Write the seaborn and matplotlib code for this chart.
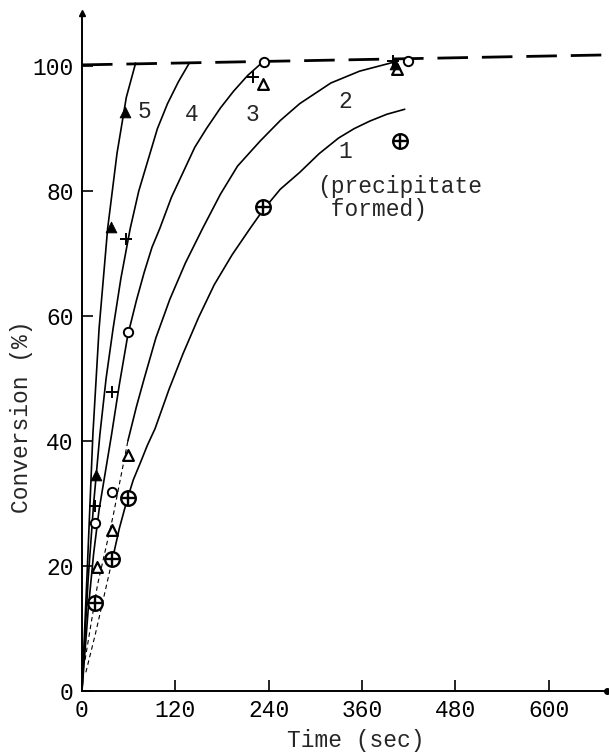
import numpy as np
import pandas as pd
import matplotlib
matplotlib.use('Agg')
import matplotlib.pyplot as plt
import seaborn as sns

# Measured points (time in sec, conversion in %)
t_oplus = [17, 39, 59, 233, 409]
c_oplus = [14.1, 21.2, 30.9, 77.4, 88.0]
t_otri = [19, 38, 59, 233, 405]
c_otri = [19.9, 25.8, 37.8, 97.1, 99.6]
t_ocirc = [17, 39, 59, 234, 419]
c_ocirc = [26.9, 31.9, 57.4, 100.6, 100.8]
t_plus = [17, 39, 57, 220, 400]
c_plus = [29.6, 47.9, 72.4, 98.2, 100.8]
t_ftri = [18, 37, 55, 403]
c_ftri = [34.6, 74.2, 92.6, 100.3]

# Drawn curves
t_curve5 = [0, 7, 14, 22, 33, 45, 57, 69]
c_curve5 = [0, 20, 41, 58, 74, 86, 95, 100.5]
t_curve4 = [0, 8, 15, 23, 31, 40, 50, 62, 73, 85, 97, 110, 124, 138]
c_curve4 = [0, 18, 30, 41, 50, 58, 66, 74, 80, 85, 90, 94, 97.5, 100.5]
t_curve3 = [0, 8, 15, 22, 30, 38, 48, 59, 70, 80, 90, 100, 115, 130, 145, 160,
            178, 195, 213, 231]
c_curve3 = [0, 13, 22, 29, 35, 41, 49, 57, 62.5, 67, 71, 74, 79, 83, 87, 90,
            93.3, 96, 98.5, 100.5]
t_curve2 = [59, 70, 80, 95, 113, 133, 155, 178, 200, 229, 255, 280, 320, 357, 400]
c_curve2 = [40, 45.5, 50, 56.5, 62.7, 68.5, 74, 79.5, 84, 88, 91.3, 94, 97.3,
            99.2, 100.6]
t_curve1 = [39, 48, 58, 66, 75, 84, 94, 112, 130, 150, 170, 193, 216, 233, 255,
            280, 305, 330, 350, 370, 392, 415]
c_curve1 = [21, 26, 30.6, 33.8, 36.5, 39.3, 42, 48.3, 54, 59.8, 65, 69.8, 74,
            77, 80.3, 83, 86, 88.5, 90, 91.2, 92.3, 93.1]

# dashed initial parts
t_init2 = [4, 20, 40, 59]
c_init2 = [5, 17, 28, 40]
t_init1 = [5, 17, 39]
c_init1 = [3, 9, 21]

t_limit = [0, 675]
c_limit = [100.2, 101.8]

curve_labels = ['5', '4', '3', '2', '1']
label_t = [81, 141, 219, 338, 338]
label_c = [92.8, 92.3, 92.3, 94.4, 86.4]

sns.set_style('ticks')
plt.rcParams['font.family'] = ['Liberation Mono', 'DejaVu Sans Mono']

fig = plt.figure(figsize=(6.09, 7.53), dpi=100)
ax = fig.add_axes([0.1346, 0.0823, 0.862, 0.9004])

fs = 16.5
k = 'black'

curves = [(t_curve5, c_curve5), (t_curve4, c_curve4), (t_curve3, c_curve3),
          (t_curve2, c_curve2), (t_curve1, c_curve1)]
for tt, cc in curves:
    sns.lineplot(x=tt, y=cc, ax=ax, color=k, lw=1.2, sort=False, estimator=None)

for tt, cc in [(t_init2, c_init2), (t_init1, c_init1)]:
    sns.lineplot(x=tt, y=cc, ax=ax, color=k, lw=0.8, sort=False, estimator=None,
                 dashes=False, linestyle=(0, (4, 3)))

ax.plot(t_limit, c_limit, color=k, lw=2.0, linestyle=(0, (11, 5)))

# markers
sns.scatterplot(x=t_oplus, y=c_oplus, ax=ax, marker='o', s=110, facecolor='white',
                edgecolor=k, linewidth=1.7, zorder=5)
sns.scatterplot(x=t_oplus, y=c_oplus, ax=ax, marker='+', s=90, color=k,
                linewidth=1.7, zorder=6)
sns.scatterplot(x=t_otri, y=c_otri, ax=ax, marker='^', s=60, facecolor='white',
                edgecolor=k, linewidth=1.6, zorder=5)
sns.scatterplot(x=t_ocirc, y=c_ocirc, ax=ax, marker='o', s=45, facecolor='white',
                edgecolor=k, linewidth=1.4, zorder=5)
sns.scatterplot(x=t_plus, y=c_plus, ax=ax, marker='+', s=80, color=k,
                linewidth=1.4, zorder=5)
sns.scatterplot(x=t_ftri, y=c_ftri, ax=ax, marker='^', s=60, color=k,
                edgecolor=k, zorder=5)

for lab, tt, cc in zip(curve_labels, label_t, label_c):
    ax.text(tt, cc, lab, fontsize=fs, ha='center', va='center')
ax.text(302, 78.9, '(precipitate\n formed)', fontsize=fs, ha='left', va='center',
        linespacing=1.05)

ax.set_xlim(0, 675)
ax.set_ylim(0, 108.5)
ax.set_xticks([0, 120, 240, 360, 480, 600])
ax.set_yticks([0, 20, 40, 60, 80, 100])
ax.tick_params(direction='in', length=8, width=1.2, labelsize=fs, pad=6, colors=k)
ax.tick_params(axis='x', pad=6)
ax.set_xlabel('Time (sec)', fontsize=fs)
ax.set_ylabel('Conversion (%)', fontsize=fs)
ax.xaxis.set_label_coords(0.522, -0.056)
ax.yaxis.set_label_coords(-0.093, 0.405)

sns.despine(ax=ax)
for sp in ['left', 'bottom']:
    ax.spines[sp].set_linewidth(1.4)
    ax.spines[sp].set_color(k)

# axis end marks
ax.plot([0], [108.5], marker='^', color=k, ms=5, clip_on=False, zorder=7)
ax.plot([675], [0], marker='o', color=k, ms=4, clip_on=False, zorder=7)

fig.savefig('out.png', dpi=100)
